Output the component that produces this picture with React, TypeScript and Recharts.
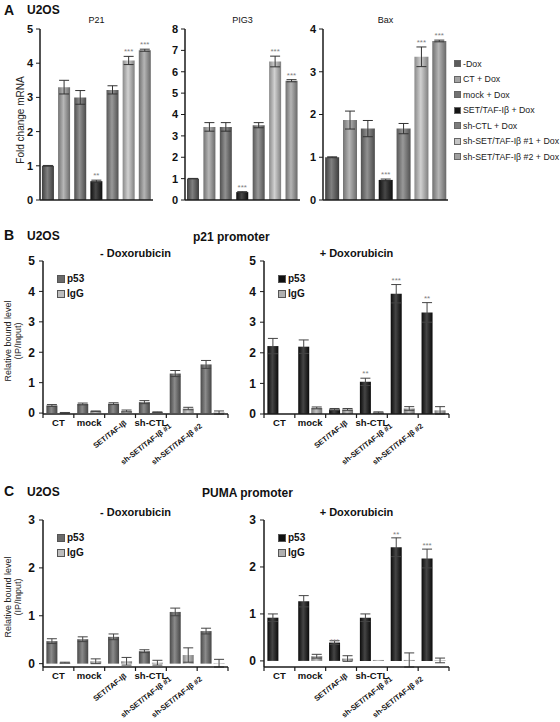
import React from 'react';
import { BarChart, Bar, XAxis, YAxis, ErrorBar, Cell, LabelList } from 'recharts';

const FONT = '"Liberation Sans", Arial, Helvetica, sans-serif';

// ---- Panel A: fold change mRNA ----
const conditions = [
  '-Dox',
  'CT + Dox',
  'mock + Dox',
  'SET/TAF-Iβ + Dox',
  'sh-CTL + Dox',
  'sh-SET/TAF-Iβ #1 + Dox',
  'sh-SET/TAF-Iβ #2 + Dox',
];
const conditionColors = ['#5c5c5c', '#a3a3a3', '#727272', '#141414', '#7c7c7c', '#c4c4c4', '#a0a0a0'];

const p21Fold = [1.0, 3.3, 3.0, 0.55, 3.22, 4.08, 4.38];
const p21Err = [0.01, 0.2, 0.2, 0.03, 0.12, 0.12, 0.03];
const p21Sig = ['', '', '', '**', '', '***', '***'];
const p21Ticks = [0, 1, 2, 3, 4, 5];

const pig3Fold = [1.0, 3.42, 3.42, 0.37, 3.5, 6.48, 5.58];
const pig3Err = [0.01, 0.2, 0.2, 0.02, 0.12, 0.25, 0.05];
const pig3Sig = ['', '', '', '***', '', '***', '***'];
const pig3Ticks = [0, 1, 2, 3, 4, 5, 6, 7, 8];

const baxFold = [1.0, 1.87, 1.67, 0.47, 1.67, 3.35, 3.72];
const baxErr = [0.01, 0.21, 0.19, 0.02, 0.12, 0.23, 0.02];
const baxSig = ['', '', '', '***', '', '***', '***'];
const baxTicks = [0, 1, 2, 3, 4];

// ---- Panels B and C: ChIP ----
const chipSites = ['CT', 'mock', 'SET/TAF-Iβ', 'sh-CTL', 'sh-SET/TAF-Iβ #1', 'sh-SET/TAF-Iβ #2'];
const p21PromoterTicks = [0, 1, 2, 3, 4, 5];
const pumaPromoterTicks = [0, 1, 2, 3];

const p21NoDoxP53 = [0.25, 0.3, 0.31, 0.36, 1.3, 1.6];
const p21NoDoxP53Err = [0.03, 0.03, 0.03, 0.05, 0.1, 0.13];
const p21NoDoxIgG = [0.01, 0.06, 0.07, 0.03, 0.15, 0.02];
const p21NoDoxIgGErr = [0.01, 0.01, 0.03, 0.01, 0.04, 0.05];
const p21NoDoxSig = ['', '', '', '', '', ''];

const p21DoxP53 = [2.22, 2.2, 0.15, 1.05, 3.93, 3.32];
const p21DoxP53Err = [0.25, 0.22, 0.03, 0.12, 0.3, 0.32];
const p21DoxIgG = [0.0, 0.2, 0.15, 0.05, 0.18, 0.12];
const p21DoxIgGErr = [0.0, 0.03, 0.03, 0.02, 0.06, 0.12];
const p21DoxSig = ['', '', '', '**', '***', '**'];

const pumaNoDoxP53 = [0.47, 0.51, 0.56, 0.26, 1.08, 0.68];
const pumaNoDoxP53Err = [0.05, 0.05, 0.06, 0.03, 0.08, 0.06];
const pumaNoDoxIgG = [0.02, 0.05, 0.05, 0.02, 0.18, 0.01];
const pumaNoDoxIgGErr = [0.01, 0.05, 0.08, 0.05, 0.15, 0.08];
const pumaNoDoxSig = ['', '', '', '', '', ''];

const pumaDoxP53 = [0.92, 1.27, 0.39, 0.92, 2.42, 2.18];
const pumaDoxP53Err = [0.08, 0.12, 0.04, 0.08, 0.2, 0.2];
const pumaDoxIgG = [0.0, 0.1, 0.05, 0.02, 0.02, 0.01];
const pumaDoxIgGErr = [0.0, 0.04, 0.06, 0.0, 0.15, 0.05];
const pumaDoxSig = ['', '', '***', '', '**', '***'];

const axisStroke = { stroke: '#1a1a1a', strokeWidth: 1.5 };

function shade(hex: string, f: number) {
  const n = parseInt(hex.slice(1), 16);
  const ch = [(n >> 16) & 255, (n >> 8) & 255, n & 255].map((c) => {
    const v = f < 0 ? c * (1 + f) : c + (255 - c) * f;
    return Math.round(Math.max(0, Math.min(255, v)));
  });
  return '#' + ch.map((c) => c.toString(16).padStart(2, '0')).join('');
}

function gradDefs(prefix: string, colors: string[]) {
  return (
    <defs>
      {colors.map((c, i) => (
        <linearGradient key={i} id={`${prefix}${i}`} x1="0" y1="0" x2="1" y2="0">
          <stop offset="0%" stopColor={shade(c, -0.3)} />
          <stop offset="45%" stopColor={shade(c, 0.22)} />
          <stop offset="100%" stopColor={shade(c, -0.35)} />
        </linearGradient>
      ))}
    </defs>
  );
}

function Txt({ x, y, size, bold, anchor, children }: any) {
  const tx = anchor === 'middle' ? 'translateX(-50%)' : '';
  return (
    <div
      style={{
        position: 'absolute',
        left: x,
        top: y - size * 0.55,
        fontSize: size,
        lineHeight: 1.1,
        fontWeight: bold ? 700 : 400,
        fontFamily: FONT,
        color: '#111',
        whiteSpace: 'nowrap',
        transform: tx,
      }}
    >
      {children}
    </div>
  );
}

function VLabel({ cx, cy, lines, size }: any) {
  return (
    <div
      style={{
        position: 'absolute',
        left: cx,
        top: cy,
        transform: 'translate(-50%,-50%) rotate(-90deg)',
        whiteSpace: 'nowrap',
        textAlign: 'center',
        fontSize: size,
        lineHeight: 1.15,
        fontFamily: FONT,
        color: '#222',
      }}
    >
      {lines.map((l: string) => (
        <div key={l}>{l}</div>
      ))}
    </div>
  );
}

function ExprChart({ plotLeft, plotW, title, fold, err, sig, ticks, prefix }: any) {
  const yW = 30;
  const mt = 29;
  const plotH = 171;
  const xh = 8;
  const mr = 5;
  const max = ticks[ticks.length - 1];
  const data = conditions.map((c, i) => ({ cond: c, fold: fold[i], err: err[i], sig: sig[i] }));
  const starLabel = (p: any) => {
    const vb = p.viewBox ?? p;
    const i = p.index;
    if (!sig[i]) return null;
    const top = mt + plotH * (1 - (fold[i] + err[i]) / max);
    return (
      <text x={vb.x + vb.width / 2} y={top - 2} textAnchor="middle" fontSize={8} fill="#808080" fontFamily={FONT}>
        {sig[i]}
      </text>
    );
  };
  return (
    <div style={{ position: 'absolute', left: plotLeft - yW, top: 0 }}>
      <BarChart
        width={yW + plotW + mr}
        height={mt + plotH + xh}
        data={data}
        margin={{ top: mt, right: mr, bottom: 0, left: 0 }}
        barCategoryGap="12%"
      >
        {gradDefs(prefix, conditionColors)}
        <XAxis dataKey="cond" tick={false} tickLine={false} height={xh} axisLine={axisStroke} />
        <XAxis xAxisId="top" orientation="top" dataKey="cond" tick={false} tickLine={false} height={0} axisLine={axisStroke} />
        <YAxis
          domain={[0, max]}
          ticks={ticks}
          interval={0}
          width={yW}
          tickSize={4}
          tickMargin={3}
          tick={{ fontSize: 11, fontWeight: 700, fill: '#111', fontFamily: FONT }}
          axisLine={axisStroke}
          tickLine={{ stroke: '#1a1a1a' }}
        />
        <YAxis yAxisId="right" orientation="right" domain={[0, max]} tick={false} tickLine={false} width={0} axisLine={axisStroke} />
        <Bar dataKey="fold" isAnimationActive={false}>
          {data.map((d, i) => (
            <Cell key={d.cond} fill={`url(#${prefix}${i})`} />
          ))}
          <ErrorBar dataKey="err" width={5} stroke="#333" strokeWidth={1} />
          <LabelList dataKey="sig" content={starLabel} />
        </Bar>
      </BarChart>
      <Txt x={yW + plotW / 2} y={21} size={9} anchor="middle">
        {title}
      </Txt>
    </div>
  );
}

const makeSiteTick = (band: number, last: number) => (p: any) => {
  const { x, y, payload, index } = p;
  const label = String(payload.value);
  const rotated = label.length > 6;
  const veryLong = label.length > 12;
  const dx = veryLong ? -10 : 7;
  const dy = veryLong ? 13 : 10;
  return (
    <g>
      <line x1={x - band / 2} x2={x - band / 2} y1={y} y2={y + 4} stroke="#1a1a1a" strokeWidth={1.2} />
      {index === last && <line x1={x + band / 2} x2={x + band / 2} y1={y} y2={y + 4} stroke="#1a1a1a" strokeWidth={1.2} />}
      {rotated ? (
        <text
          transform={`translate(${x + dx},${y + dy}) rotate(-38)`}
          textAnchor="end"
          fontSize={7.5}
          fontWeight={700}
          fill="#111"
          fontFamily={FONT}
        >
          {label}
        </text>
      ) : (
        <text x={x} y={y + 12} textAnchor="middle" fontSize={9.5} fontWeight={700} fill="#111" fontFamily={FONT}>
          {label}
        </text>
      )}
    </g>
  );
};

function ChipChart({ plotLeft, plotTop, plotH, ticks, title, p53, p53Err, igg, iggErr, sig, p53Color, iggColor, prefix }: any) {
  const yW = 26;
  const mt = 9;
  const xh = 54;
  const mr = 6;
  const plotW = 185;
  const max = ticks[ticks.length - 1];
  const band = plotW / chipSites.length;
  const data = chipSites.map((s, i) => ({
    site: s,
    p53: p53[i],
    p53Err: p53Err[i],
    igg: igg[i],
    iggErr: iggErr[i],
    sig: sig[i],
  }));
  const starLabel = (p: any) => {
    const vb = p.viewBox ?? p;
    const i = p.index;
    if (!sig[i]) return null;
    const top = mt + plotH * (1 - (p53[i] + p53Err[i]) / max);
    return (
      <text x={vb.x + vb.width / 2} y={top - 2} textAnchor="middle" fontSize={8} fill="#808080" fontFamily={FONT}>
        {sig[i]}
      </text>
    );
  };
  return (
    <>
      <div style={{ position: 'absolute', left: plotLeft - yW, top: plotTop - mt }}>
        <BarChart
          width={yW + plotW + mr}
          height={mt + plotH + xh}
          data={data}
          margin={{ top: mt, right: mr, bottom: 0, left: 0 }}
          barCategoryGap="11%"
          barGap={2}
        >
          {gradDefs(prefix, [p53Color, iggColor])}
          <XAxis
            dataKey="site"
            height={xh}
            interval={0}
            tickSize={0}
            tickMargin={0}
            tickLine={false}
            axisLine={axisStroke}
            tick={makeSiteTick(band, chipSites.length - 1)}
          />
          <XAxis xAxisId="top" orientation="top" dataKey="site" tick={false} tickLine={false} height={0} axisLine={axisStroke} />
          <YAxis
            domain={[0, max]}
            ticks={ticks}
            interval={0}
            width={yW}
            tickSize={4}
            tickMargin={4}
            tick={{ fontSize: 12, fontWeight: 700, fill: '#111', fontFamily: FONT }}
            axisLine={axisStroke}
            tickLine={{ stroke: '#1a1a1a' }}
          />
          <YAxis yAxisId="right" orientation="right" domain={[0, max]} tick={false} tickLine={false} width={0} axisLine={axisStroke} />
          <Bar dataKey="p53" fill={`url(#${prefix}0)`} isAnimationActive={false}>
            <ErrorBar dataKey="p53Err" width={5} stroke="#444" strokeWidth={1} />
            <LabelList dataKey="sig" content={starLabel} />
          </Bar>
          <Bar dataKey="igg" fill={`url(#${prefix}1)`} isAnimationActive={false}>
            <ErrorBar dataKey="iggErr" width={5} stroke="#444" strokeWidth={1} />
          </Bar>
        </BarChart>
      </div>
      <Txt x={plotLeft + plotW / 2} y={plotTop - 8} size={11} bold anchor="middle">
        {title}
      </Txt>
      <div style={{ position: 'absolute', left: plotLeft + 14, top: plotTop + 10, fontFamily: FONT }}>
        {[
          ['p53', p53Color],
          ['IgG', iggColor],
        ].map(([name, c]) => (
          <div key={name} style={{ display: 'flex', alignItems: 'center', height: 15, fontSize: 10, fontWeight: 700, color: '#111' }}>
            <span style={{ width: 6, height: 6, background: c, border: '1px solid #555', marginRight: 2, display: 'inline-block' }} />
            {name}
          </div>
        ))}
      </div>
    </>
  );
}

export default function App() {
  return (
    <div style={{ position: 'absolute', left: 0, top: 0, width: 560, height: 722, background: '#fff', fontFamily: FONT }}>
      {/* Panel A */}
      <Txt x={4} y={11} size={14} bold>A</Txt>
      <Txt x={27} y={11} size={12} bold>U2OS</Txt>
      <VLabel cx={21} cy={120} lines={['Fold change mRNA']} size={10} />
      <ExprChart plotLeft={40} plotW={113} title="P21" fold={p21Fold} err={p21Err} sig={p21Sig} ticks={p21Ticks} prefix="ga1_" />
      <ExprChart plotLeft={185} plotW={115} title="PIG3" fold={pig3Fold} err={pig3Err} sig={pig3Sig} ticks={pig3Ticks} prefix="ga2_" />
      <ExprChart plotLeft={323} plotW={125} title="Bax" fold={baxFold} err={baxErr} sig={baxSig} ticks={baxTicks} prefix="ga3_" />
      <div style={{ position: 'absolute', left: 454, top: 56, fontFamily: FONT }}>
        {conditions.map((c, i) => (
          <div key={c} style={{ display: 'flex', alignItems: 'center', height: 15.5, fontSize: 8.8, color: '#222', whiteSpace: 'nowrap' }}>
            <span style={{ width: 5, height: 5, background: conditionColors[i], border: '1px solid #666', marginRight: 2, display: 'inline-block' }} />
            {c}
          </div>
        ))}
      </div>

      {/* Panel B */}
      <Txt x={4} y={236} size={14} bold>B</Txt>
      <Txt x={27} y={237} size={12} bold>U2OS</Txt>
      <Txt x={193} y={238} size={12} bold>p21 promoter</Txt>
      <VLabel cx={13} cy={341} lines={['Relative bound level', '(IP/Input)']} size={9} />
      <ChipChart
        plotLeft={43}
        plotTop={261}
        plotH={153}
        ticks={p21PromoterTicks}
        title="- Doxorubicin"
        p53={p21NoDoxP53}
        p53Err={p21NoDoxP53Err}
        igg={p21NoDoxIgG}
        iggErr={p21NoDoxIgGErr}
        sig={p21NoDoxSig}
        p53Color="#6a6a6a"
        iggColor="#bdbdbd"
        prefix="gb1_"
      />
      <ChipChart
        plotLeft={264}
        plotTop={261}
        plotH={153}
        ticks={p21PromoterTicks}
        title="+ Doxorubicin"
        p53={p21DoxP53}
        p53Err={p21DoxP53Err}
        igg={p21DoxIgG}
        iggErr={p21DoxIgGErr}
        sig={p21DoxSig}
        p53Color="#101010"
        iggColor="#b0b0b0"
        prefix="gb2_"
      />

      {/* Panel C */}
      <Txt x={4} y={492} size={14} bold>C</Txt>
      <Txt x={27} y={493} size={12} bold>U2OS</Txt>
      <Txt x={202} y={494} size={12} bold>PUMA promoter</Txt>
      <VLabel cx={13} cy={597} lines={['Relative bound level', '(IP/Input)']} size={9} />
      <ChipChart
        plotLeft={43}
        plotTop={520}
        plotH={147}
        ticks={pumaPromoterTicks}
        title="- Doxorubicin"
        p53={pumaNoDoxP53}
        p53Err={pumaNoDoxP53Err}
        igg={pumaNoDoxIgG}
        iggErr={pumaNoDoxIgGErr}
        sig={pumaNoDoxSig}
        p53Color="#6a6a6a"
        iggColor="#bdbdbd"
        prefix="gc1_"
      />
      <ChipChart
        plotLeft={264}
        plotTop={520}
        plotH={147}
        ticks={pumaPromoterTicks}
        title="+ Doxorubicin"
        p53={pumaDoxP53}
        p53Err={pumaDoxP53Err}
        igg={pumaDoxIgG}
        iggErr={pumaDoxIgGErr}
        sig={pumaDoxSig}
        p53Color="#101010"
        iggColor="#b0b0b0"
        prefix="gc2_"
      />
    </div>
  );
}
